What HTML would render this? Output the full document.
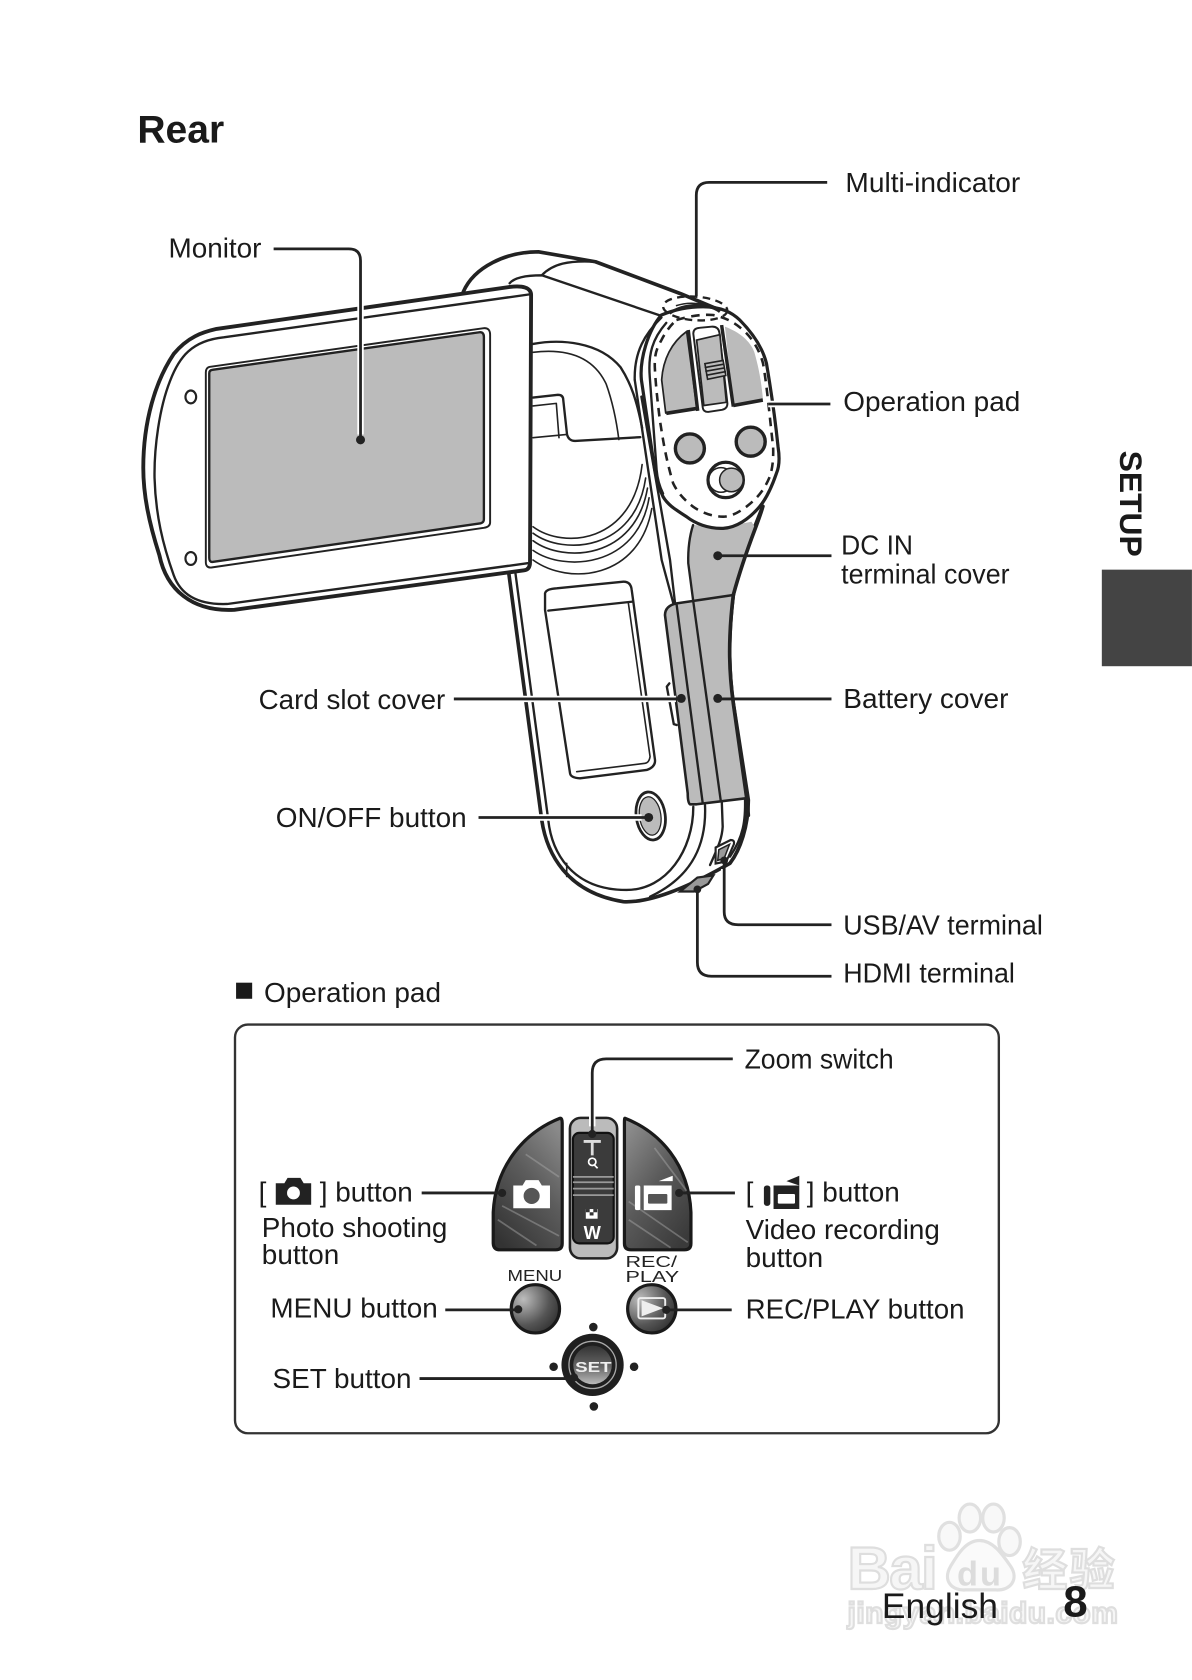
<!DOCTYPE html>
<html><head><meta charset="utf-8"><title>Rear</title>
<style>html,body{margin:0;padding:0;background:#fff}svg{display:block}
text{font-family:"Liberation Sans","Noto Sans CJK SC",sans-serif;fill:#1a1a1a;font-size:26px}
.o{fill:none;stroke:#222;stroke-width:3.4;stroke-linejoin:round;stroke-linecap:round}
.m{fill:none;stroke:#222;stroke-width:2.2;stroke-linejoin:round;stroke-linecap:round}
.t{fill:none;stroke:#222;stroke-width:1.5;stroke-linejoin:round;stroke-linecap:round}
.l{fill:none;stroke:#222;stroke-width:2.6;stroke-linejoin:round}
.h{fill:none;stroke:#fff;stroke-width:6}
.wm{fill:#f6f6f6;stroke:#dedede;stroke-width:2;font-weight:bold}
</style></head><body>
<svg xmlns="http://www.w3.org/2000/svg" width="1192" height="1680" viewBox="0 0 1111 1566">
<defs>
<linearGradient id="gb" x1="0.8" y1="0" x2="0.2" y2="1"><stop offset="0" stop-color="#8a8a8a"/><stop offset=".45" stop-color="#5c5c5c"/><stop offset="1" stop-color="#333"/></linearGradient>
<linearGradient id="gr" x1="0.1" y1="0" x2="0.8" y2="1"><stop offset="0" stop-color="#8f8f8f"/><stop offset=".5" stop-color="#5a5a5a"/><stop offset="1" stop-color="#3a3a3a"/></linearGradient>
<radialGradient id="gc" cx=".25" cy=".3" r=".9"><stop offset="0" stop-color="#bdbdbd"/><stop offset=".6" stop-color="#555"/><stop offset="1" stop-color="#2a2a2a"/></radialGradient>
<linearGradient id="gs" x1="0" y1="0" x2="0" y2="1"><stop offset="0" stop-color="#333"/><stop offset=".55" stop-color="#666"/><stop offset="1" stop-color="#bbb"/></linearGradient>
</defs>
<rect width="1111" height="1566" fill="#fff"/>

<!-- watermark -->
<g>
<text class="wm" x="790" y="1481" style="font-size:56px" textLength="84">Bai</text>
<ellipse cx="885" cy="1432" rx="10" ry="13" fill="#f8f8f8" stroke="#e0e0e0" stroke-width="3"/>
<ellipse cx="904" cy="1415" rx="10" ry="13" fill="#f8f8f8" stroke="#e0e0e0" stroke-width="3"/>
<ellipse cx="926" cy="1415" rx="10" ry="13" fill="#f8f8f8" stroke="#e0e0e0" stroke-width="3"/>
<ellipse cx="941" cy="1437" rx="10" ry="13" fill="#f8f8f8" stroke="#e0e0e0" stroke-width="3"/>
<path d="M913,1436 C900,1436 892,1450 886,1460 C878,1474 888,1483 900,1482 L928,1482 C942,1483 950,1472 942,1460 C935,1450 926,1436 913,1436Z" fill="#fafafa" stroke="#e0e0e0" stroke-width="3"/>
<text x="892" y="1478" style="font-size:32px;fill:#dcdcdc;font-weight:bold" textLength="41">du</text>
<text class="wm" x="953" y="1478" style="font-size:42px" textLength="86">经验</text>
<text class="wm" x="790" y="1513" style="font-size:28px" textLength="252">jingyan.baidu.com</text>
</g>

<text x="128" y="133" style="font-size:36.4px;font-weight:bold">Rear</text>

<!-- camera body top -->
<path class="o" d="M431.8,272 C441.8,248.8 471.8,234.7 501.8,234.7 L555,244 L634.5,273.8 L671,289"/>
<path class="m" d="M475,264 C480,258 492,256.6 505,256.6 L615,294"/>
<path class="m" d="M505,256.6 C515,246 530,242.5 555,244"/>

<!-- grip -->
<path class="m" d="M496.8,320.6 C521.8,316 558.5,318 578.5,342.5 C588.5,358 593.5,373.8 598.5,398.8"/>
<path class="t" d="M496.8,328.4 C525,325 551.8,330 565,358 C571.8,377 575,395.6 576.8,409.7"/>
<path class="m" d="M496.8,370.6 L520,368 Q525,368 525,373 L528.5,405 Q530,411 536,411 L596.8,407.5"/>
<path class="t" d="M496.8,378.4 L518.5,376 L521,408 M496.8,408 L528.5,405"/>
<path class="t" d="M496.8,491 C525,512 590,507 598.5,433"/>
<path class="t" d="M496.8,497 C525,518 592,514 601.8,445.6"/>
<path class="t" d="M496.8,504 C525,525 592,522 603.5,455"/>
<path class="t" d="M496.8,513 C525,533 594,530 605,464"/>
<path class="t" d="M496.8,522 C530,546 596,540 607.5,474"/>

<!-- lower body -->
<path class="o" d="M473.8,531.3 L504.9,764.3 C509.5,795.4 528,832 581,840.5 C610,842 650,822 680.4,804.7 C690,792 697.5,770 697.5,745.7 L683.5,655.6 C680,630 678,600 683.5,554.6 C686,540 695.7,509.6 711,472"/>
<path class="m" d="M480,531.3 L511,764.3 C514,792.3 531.3,829.6 584,829.6 C621.4,829.6 646.2,792.3 646.2,752"/>
<path class="m" d="M657.1,750.4 C658.7,786 646.2,817 605.9,835.8"/>
<path class="m" d="M672.7,745.7 L673.6,770.6 C673,780 671,786 661.8,806.3"/>
<path class="m" d="M694.4,744 C695,765 692.9,780 680.4,798.5"/>
<path class="t" d="M528.2,804.7 L528.2,817"/>

<path class="m" d="M591.6,354 L616.7,522 L627.6,562.4"/>
<path class="m" d="M597.8,369.7 L624.5,522 L629.2,562.4"/>

<!-- card slot panel -->
<path class="m" d="M508,568.6 L508,553 Q509,549 518.9,548.4 L581,542.2 Q588,542 588.8,550 L610.5,708.4 Q611,715 602.8,717.7 L540.6,725.5 Q532,725 531.3,720.8 Z"/>
<path class="m" d="M511,569.2 L589.7,560.8"/>
<path class="t" d="M585.7,562.4 L605.9,705.3 Q605,711 601.2,711.5 L537.5,719.3"/>
<path class="m" d="M623.9,637 L621.5,640 L628,675 L630.7,675.8"/>

<!-- gray DC / battery -->
<path d="M646,489.4 Q675,492 700.4,486.3 L703.5,491 C695,512 686,540 683.5,554.6 L646.2,560.8 L641.5,525 Q640,505 646,489.4Z" fill="#bbb"/>
<path class="m" d="M646,489.4 Q641,505 641.5,525 L646.2,560.8"/>
<path d="M619.8,573.3 Q620,564.5 630.7,562.4 L683.5,554.6 C678,600 680,630 683.5,655.6 L696,744 L649.4,749.7 L643.1,749.7 Q641,748 641,739.5 Z" fill="#bbb" stroke="#222" stroke-width="2.4" stroke-linejoin="round"/>
<path class="m" d="M630.7,564 L655,748.8 M646.2,560.8 L671.7,745.7"/>
<path class="o" d="M683.5,554.6 C678,600 680,630 683.5,655.6 L696,744 Q697,752 697.5,760"/>
<path class="o" d="M711,472 C708,485 695.7,509.6 683.5,554.6"/>

<!-- operation pad -->
<path d="M616.5,293.6 C630,288 642,285.9 655.3,285.9 C672,286 682,291 689.5,298.3 C703,312 711,325 714.4,338.7 C718,360 723,395 725.2,416.4 C727,428 726,436 723.7,441.2 C719,455 714,465 708,472.3 C698,484 686,492 674,492.5 C660,493 648,488 639.8,481.6 C628,474 622,470 618,463 C614,455 612,447 610.3,438 L597.8,354 C596,335 604,308 616.5,293.6Z" fill="#fff" stroke="#222" stroke-width="3" stroke-linejoin="round"/>
<path class="m" d="M616.5,296 C601,311 591,328 591.6,354"/>
<path class="m" d="M618,460 Q613,450 612,438 L605.6,351 C604,330 608,316 621,301"/>
<path d="M630.5,298.3 C645,294 655,293 664.6,293.6 C676,296 684,300 692.6,307.6 C702,316 708,327 711.2,338.7 C715,360 718,395 720.6,416.4 C721,428 720,437 717.5,444.3 C712,458 704,466 695.7,472.3 C688,478 681,481.6 674,481.6 C664,481.6 654,478 646,472.3 C638,466 632,460 627.4,450.5 C620,425 618,410 615,391.5 C613,375 611,358 610.3,341.8 C610,330 612,325 616.5,317 C620,310 625,303 630.5,298.3Z" fill="none" stroke="#222" stroke-width="2.4" stroke-dasharray="8 6"/>
<!-- wings -->
<path d="M640,309 C626,319 618,335 616.7,354 L620.5,385 L649.5,380.6Z" fill="#bbb" stroke="#222" stroke-width="1.6" stroke-linejoin="round"/>
<path d="M675.7,304.5 C690,310 699,318 703,328 C708,345 710,360 711.2,372.9 L683.5,378Z" fill="#bbb"/>
<path d="M621,385.3 L650.5,380.6 M683.5,378 L711,372.9" stroke="#222" stroke-width="3.4" fill="none"/>
<path d="M641.5,307.6 L650.3,383 M672.6,303 L683.5,379" stroke="#222" stroke-width="3.2" fill="none"/>
<!-- slider -->
<path d="M646.2,311 Q646.2,306 652,305.6 L663,304.5 Q669.5,304 670.5,310 L678,376 Q678,381 673,382 L660,384 Q655.5,384 655,380Z" fill="#fff" stroke="#222" stroke-width="1.8"/>
<path d="M649.3,317 L671,312 L677,375 L656,378Z" fill="#bbb" stroke="#222" stroke-width="1.6"/>
<path d="M657,339 L674,336 L676.5,350 L659.5,353.5Z" fill="#bbb" stroke="#222" stroke-width="1.5"/>
<path class="t" d="M657.5,342.5 L674.6,339.5 M658,346 L675.2,343 M658.7,349.7 L676,346.5"/>
<!-- pad buttons -->
<circle cx="643" cy="418" r="13.5" fill="#bbb" stroke="#222" stroke-width="3.2"/>
<circle cx="699.7" cy="411.7" r="13.5" fill="#bbb" stroke="#222" stroke-width="3.2"/>
<circle cx="676.4" cy="447.4" r="16.5" fill="#fff" stroke="#222" stroke-width="3"/>
<circle cx="672" cy="447.4" r="11.5" fill="none" stroke="#222" stroke-width="1.4"/>
<circle cx="681.7" cy="447.4" r="11" fill="#bbb" stroke="#222" stroke-width="1.4"/>
<!-- multi indicator mark -->
<path d="M624,292 C638,283 660,282 671,290.5" fill="none" stroke="#222" stroke-width="2.8"/>
<path d="M630,285 C642,281 655,282 670,288" fill="none" stroke="#222" stroke-width="1.4"/>
<ellipse cx="648" cy="287.5" rx="30" ry="11" transform="rotate(4 648 287.5)" fill="none" stroke="#222" stroke-width="2.2" stroke-dasharray="7 5"/>

<!-- on/off -->
<ellipse cx="606.5" cy="760.6" rx="13.5" ry="22.5" transform="rotate(-8 606.5 760.6)" fill="#fff" stroke="#222" stroke-width="2.6"/>
<ellipse cx="606" cy="760.6" rx="10" ry="18" transform="rotate(-8 606 760.6)" fill="#bbb" stroke="#222" stroke-width="1.2"/>
<!-- usb -->
<path d="M667,790 L681,783 Q685,783 684,787 L677,803 L667,805Z" fill="#fff" stroke="#222" stroke-width="2"/>
<path d="M670,792 L680,787 L675,800 L669,802Z" fill="#999" stroke="#222" stroke-width="1.4"/>
<!-- hdmi -->
<path d="M634,831 L650,818 L665,816 L660,824 L647,831Z" fill="#999" stroke="#222" stroke-width="2"/>

<!-- monitor -->
<path d="M201.8,306.6 L475,267.5 C487,266 495,268 495,275 L494,524 Q494,531 488.5,531.6 L218.5,568.4 C178.5,570.6 155,549 148.5,517.5 C138.5,486 133.5,461 133.5,436 C133.5,392.5 145,355 161.8,330 C175,314 188.5,309.7 201.8,306.6Z" fill="#fff" stroke="#222" stroke-width="3.6" stroke-linejoin="round"/>
<path class="m" d="M493.5,274.4 L208.5,314.4 C178.5,317.5 166.8,333 158.5,355 C148.5,380 143.5,417.5 144,445.6 C145,480 151.8,508 161.8,536 C168.5,555 185,564 211.8,563 L491.8,525"/>
<path d="M195,342 L450,306 Q456.8,305 456.8,312 L456.8,487 Q456.8,491 451,492 L197,529 Q191.8,529.4 191.8,524 L191.8,347 Q191.8,343 195,342Z" fill="#fff" stroke="#222" stroke-width="1.8"/>
<path d="M198,344.7 L447,309.7 Q451,309.5 451,314 L451,484 Q451,487 448,487.8 L198,523.8 Q195,524 195,520 L195,348 Q195,345 198,344.7Z" fill="#bbb" stroke="#222" stroke-width="2.2"/>
<ellipse cx="177.8" cy="370" rx="5" ry="6" fill="#fff" stroke="#222" stroke-width="2"/>
<ellipse cx="177.8" cy="520.6" rx="5" ry="6" fill="#fff" stroke="#222" stroke-width="2"/>

<!-- leaders rear -->
<path class="h" d="M336,262 L336,405 M423,651.5 L630,651.5 M446,762 L598,762 M716,376.6 L772,376.6 M675,810 L675,850 M650,836 L650,897"/>
<path class="l" d="M255,232 L325,232 Q336,232 336,243 L336,410"/><circle cx="336" cy="410" r="4.2" fill="#222"/>
<path class="l" d="M771,170 L661,170 Q649,170 649,182 L649,276"/>
<path class="l" d="M716,376.6 L774,376.6"/>
<path class="l" d="M669,518 L775,518"/><circle cx="669" cy="518" r="4.2" fill="#222"/>
<path class="l" d="M423,651.5 L635,651.5"/><circle cx="635" cy="651" r="4.2" fill="#222"/>
<path class="l" d="M669,651.5 L775,651.5"/><circle cx="669" cy="651" r="4.2" fill="#222"/>
<path class="l" d="M446,762 L604.6,762"/><circle cx="604.6" cy="762" r="4.2" fill="#222"/>
<path class="l" d="M675,802 L675,850 Q675,862 688,862 L775,862"/><circle cx="675" cy="802" r="3.6" fill="#222"/>
<path class="l" d="M650,829 L650,897 Q650,910 663,910 L775,910"/><circle cx="650" cy="829" r="3.6" fill="#222"/>

<!-- rear labels -->
<text x="788" y="179" textLength="163" lengthAdjust="spacingAndGlyphs">Multi-indicator</text>
<text x="157" y="240">Monitor</text>
<text x="786" y="383" textLength="165" lengthAdjust="spacingAndGlyphs">Operation pad</text>
<text x="784" y="517" textLength="67" lengthAdjust="spacingAndGlyphs">DC IN</text>
<text x="784" y="544" textLength="157" lengthAdjust="spacingAndGlyphs">terminal cover</text>
<text x="241" y="661" textLength="174" lengthAdjust="spacingAndGlyphs">Card slot cover</text>
<text x="786" y="660" textLength="154" lengthAdjust="spacingAndGlyphs">Battery cover</text>
<text x="257" y="771" textLength="178" lengthAdjust="spacingAndGlyphs">ON/OFF button</text>
<text x="786" y="871" textLength="186" lengthAdjust="spacingAndGlyphs">USB/AV terminal</text>
<text x="786" y="916" textLength="160" lengthAdjust="spacingAndGlyphs">HDMI terminal</text>

<rect x="220" y="916" width="15" height="15" fill="#1a1a1a"/>
<text x="246" y="934" textLength="165" lengthAdjust="spacingAndGlyphs">Operation pad</text>

<!-- box -->
<rect x="219" y="955" width="712" height="381" rx="12" fill="none" stroke="#333" stroke-width="2.2"/>

<!-- left cam button -->
<path d="M521.9,1042.4 C490,1055 462,1085 459.7,1130 L459.7,1158.9 Q460,1165 466,1165 L518,1165 Q524,1165 524,1159 L524,1047 Q524,1042 521.9,1042.4Z" fill="url(#gb)" stroke="#1a1a1a" stroke-width="3"/>
<path d="M582.5,1042.4 C615,1055 642,1085 644,1130 L644,1159 Q644,1165 638,1165 L588,1165 Q582,1165 582,1159 L582,1047 Q582,1042 582.5,1042.4Z" fill="url(#gr)" stroke="#1a1a1a" stroke-width="3"/>
<path d="M468,1124 L521,1152 M464,1137 L500,1161 M490,1076 L521,1097" stroke="#aaa" stroke-width="1.6" opacity=".45" fill="none"/>
<path d="M586,1120 L641,1158 M586,1137 L625,1163 M610,1070 L640,1110" stroke="#aaa" stroke-width="1.6" opacity=".45" fill="none"/>
<!-- center slider -->
<rect x="531.2" y="1042" width="44" height="131" rx="10" fill="#bbb" stroke="#222" stroke-width="2.4"/>
<rect x="534" y="1056" width="38" height="103" rx="6" fill="#3b3b3b" stroke="#111" stroke-width="2"/>
<path d="M534,1097 H572 M534,1102 H572 M534,1108 H572 M534,1114 H572" stroke="#999" stroke-width="1.6"/>
<path d="M544,1064 H560 M552,1064 V1077" stroke="#ddd" stroke-width="2.6" fill="none"/>
<circle cx="552" cy="1083" r="3.4" fill="none" stroke="#fff" stroke-width="1.6"/><path d="M554,1086 L557,1089" stroke="#fff" stroke-width="1.6"/>
<rect x="546" y="1127" width="11" height="9" fill="#fff"/><rect x="546" y="1127" width="3.6" height="3" fill="#333"/><rect x="553" y="1127" width="3.6" height="3" fill="#333"/><rect x="549.6" y="1130" width="3.6" height="3" fill="#333"/>
<text x="544" y="1155" style="font-size:17px;font-weight:bold;fill:#fff" textLength="19">W</text>
<!-- camera icon -->
<path d="M478.4,1105 L487,1105 L490,1100 L502,1100 L505,1105 L512.6,1105 L512.6,1126.3 L478.4,1126.3Z" fill="#fff"/>
<circle cx="495.5" cy="1114.8" r="7.5" fill="#555"/>
<!-- video icon -->
<rect x="591.8" y="1105" width="5" height="23" rx="1.5" fill="#fff"/>
<path d="M600,1105 L626,1105 L626,1128 L600,1128Z" fill="#fff"/>
<rect x="604" y="1113" width="18" height="9" rx="1" fill="#555"/>
<path d="M614,1101 L627,1096 L627,1101Z" fill="#fff"/>
<!-- small labels -->
<text x="473" y="1194" style="font-size:14.5px;fill:#222" textLength="51" lengthAdjust="spacingAndGlyphs">MENU</text>
<text x="583" y="1181" style="font-size:14.5px;fill:#222" textLength="48" lengthAdjust="spacingAndGlyphs">REC/</text>
<text x="583" y="1195" style="font-size:14.5px;fill:#222" textLength="50" lengthAdjust="spacingAndGlyphs">PLAY</text>
<!-- round buttons -->
<circle cx="499" cy="1220" r="22.5" fill="url(#gc)" stroke="#1a1a1a" stroke-width="3"/>
<circle cx="607.5" cy="1220" r="22.5" fill="url(#gc)" stroke="#1a1a1a" stroke-width="3"/>
<rect x="595" y="1210" width="25" height="19" rx="2" fill="none" stroke="#eee" stroke-width="1.8"/>
<path d="M598,1212 L618,1219.5 L598,1227Z" fill="#eee"/>
<!-- set -->
<circle cx="552.3" cy="1272.3" r="29" fill="#1f1f1f"/>
<circle cx="552.3" cy="1272.3" r="22" fill="none" stroke="#aaa" stroke-width="1.2"/>
<circle cx="552.3" cy="1272.3" r="18" fill="url(#gs)"/>
<text x="536" y="1279" style="font-size:14px;font-weight:bold;fill:#eee" textLength="34" lengthAdjust="spacingAndGlyphs">SET</text>
<circle cx="553" cy="1237" r="4" fill="#222"/><circle cx="516" cy="1274" r="4" fill="#222"/><circle cx="591" cy="1274" r="4" fill="#222"/><circle cx="553.5" cy="1311" r="4" fill="#222"/>

<!-- box leaders -->
<path class="h" d="M552,1050 L552,1000"/>
<path class="l" d="M552,1057 L552,1000 Q552,987 565,987 L683,987"/><circle cx="552" cy="1057" r="3.8" fill="#222"/>
<path class="l" d="M393,1112 L468,1112"/><circle cx="468" cy="1112" r="3.8" fill="#222"/>
<path class="l" d="M633,1112 L685,1112"/><circle cx="633" cy="1112" r="3.8" fill="#222"/>
<path class="l" d="M415,1221 L483,1221"/><circle cx="483" cy="1220.5" r="3.8" fill="#222"/>
<path class="l" d="M621,1221 L682,1221"/><circle cx="621" cy="1221" r="3.8" fill="#222"/>
<path class="l" d="M391,1285 L535,1285"/><circle cx="535" cy="1284" r="3.8" fill="#222"/>

<!-- box labels -->
<text x="694" y="996" textLength="139" lengthAdjust="spacingAndGlyphs">Zoom switch</text>
<text x="241" y="1120">[</text>
<path d="M257,1103 L265,1103 L268,1098 L280,1098 L283,1103 L290,1103 L290,1123 L257,1123Z" fill="#222"/>
<circle cx="273.5" cy="1112" r="6" fill="#fff"/>
<text x="298" y="1120">] button</text>
<text x="244" y="1153" textLength="173" lengthAdjust="spacingAndGlyphs">Photo shooting</text>
<text x="244" y="1178">button</text>
<text x="252" y="1228">MENU button</text>
<text x="254" y="1294">SET button</text>
<text x="695" y="1120">[</text>
<rect x="712" y="1105" width="6" height="19" rx="2.5" fill="#222"/>
<path d="M721,1105 L745,1105 L745,1127 L721,1127Z" fill="#222"/><rect x="725" y="1113" width="16" height="9" rx="1" fill="#fff"/>
<path d="M733,1101 L745,1096 L745,1105 Z" fill="#222"/>
<text x="752" y="1120">] button</text>
<text x="695" y="1155" textLength="181" lengthAdjust="spacingAndGlyphs">Video recording</text>
<text x="695" y="1181">button</text>
<text x="695" y="1229" textLength="204" lengthAdjust="spacingAndGlyphs">REC/PLAY button</text>

<!-- side tab -->
<text transform="translate(1044,420) rotate(90)" style="font-size:29.7px;font-weight:bold">SETUP</text>
<rect x="1027" y="531" width="84" height="90" fill="#444"/>

<!-- footer -->
<text x="822" y="1508" style="font-size:33px">English</text>
<text x="991" y="1507" style="font-size:41px;font-weight:bold">8</text>
</svg>
</body></html>
